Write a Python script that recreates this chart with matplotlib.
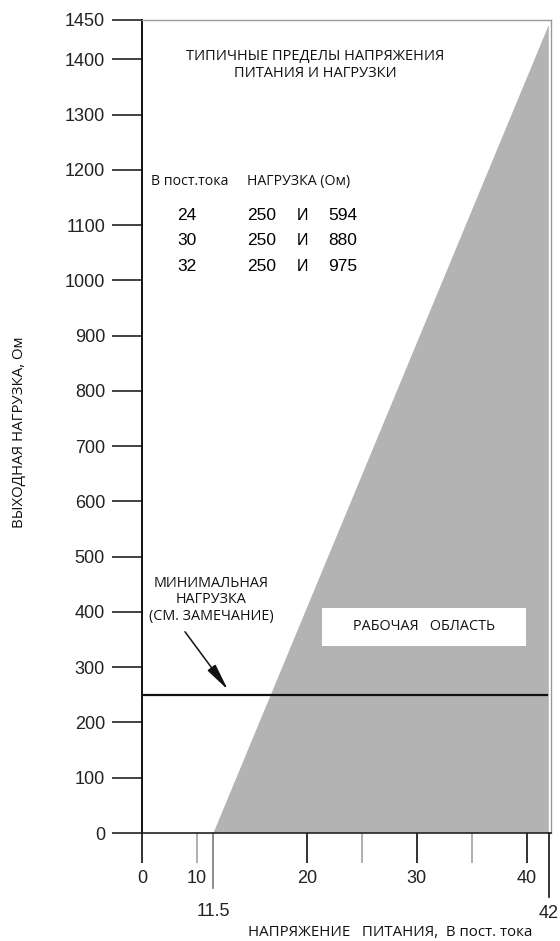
import matplotlib.pyplot as plt
from matplotlib.patches import Polygon, Rectangle

# данные
y_ticks = [0, 100, 200, 300, 400, 500, 600, 700, 800, 900, 1000, 1100, 1200, 1300, 1400]
x_major = [20, 30, 40]
x_minor = [10, 25, 35]
v_min = 11.5
v_max = 42
r_min = 250
# рабочая область (граница идёт примерно от 11.5 В до верхнего угла при 42 В)
area_v = [11.5, 42, 42]
area_r = [0, 1462, 0]
table_v = [24, 30, 32]
table_lo = [250, 250, 250]
table_hi = [594, 880, 975]

num_font = 'Liberation Sans'
txt_font = 'Open Sans'

fig = plt.figure(figsize=(5.6, 9.41), dpi=100)
W, H = 560, 941
ax = fig.add_axes([142 / W, 1 - 833 / H, (551 - 142) / W, (833 - 20) / H])
ax.set_xlim(5, 42.2)
ax.set_ylim(0, 1471)

# серая область
ax.add_patch(Polygon(list(zip(area_v, area_r)), closed=True, facecolor='#b3b3b3', edgecolor='none', zorder=1))
ax.plot([5, 41.8], [r_min, r_min], color='#111111', lw=1.6, zorder=3)

# оси
for s in ['top', 'right']:
    ax.spines[s].set_color('#999999')
    ax.spines[s].set_linewidth(1.0)
ax.spines['left'].set_color('#111111')
ax.spines['left'].set_linewidth(1.4)
ax.spines['bottom'].set_color('#222222')
ax.spines['bottom'].set_linewidth(1.2)

ax.set_yticks(y_ticks + [1471], [str(v) for v in y_ticks] + ['1450'])
ax.tick_params(axis='y', direction='out', length=21.6, width=1.3, color='#333333', pad=5,
               labelsize=13)
ax.set_xticks([5] + x_major, ['0'] + [str(v) for v in x_major])
ax.set_xticks(x_minor, ['10', '', ''], minor=True)
ax.tick_params(axis='x', which='major', direction='out', length=21.6, width=1.3,
               color='#222222', pad=5, labelsize=13)
ax.tick_params(axis='x', which='minor', direction='out', length=21.6, width=1.1,
               color='#999999', pad=5, labelsize=13)
for lab in ax.get_xticklabels(which='both') + ax.get_yticklabels():
    lab.set_family(num_font)
    lab.set_color('#222222')

# длинные засечки 11.5 и 42
trans = ax.get_xaxis_transform()
ax_h = 833 - 20
for v, ln, off, col in [(v_min, 55, 78, '#777777'), (v_max, 64, 80, '#111111')]:
    ax.plot([v, v], [0, -ln / ax_h], transform=trans, color=col, lw=1.2, clip_on=False)
    ax.text(v, -off / ax_h, f'{v:g}', transform=trans, ha='center', va='center',
            fontsize=13, family=num_font, color='#222222')


def dx(px):
    return 5 + (px - 142) / 11.0


def dy(py):
    return (832 - py) / 0.552


# заголовок
ax.text(dx(315), dy(65), 'ТИПИЧНЫЕ ПРЕДЕЛЫ НАПРЯЖЕНИЯ\nПИТАНИЯ И НАГРУЗКИ', ha='center', va='center',
        fontsize=10.5, family=txt_font, linespacing=1.25, color='#111111')

# таблица
ax.text(dx(151), dy(181), 'В пост.тока', ha='left', va='center', fontsize=10.2, family=txt_font,
        color='#111111')
ax.text(dx(247), dy(181), 'НАГРУЗКА (Ом)', ha='left', va='center', fontsize=10.2, family=txt_font,
        color='#111111')
for i, (v, lo, hi) in enumerate(zip(table_v, table_lo, table_hi)):
    yy = dy(215 + 25.5 * i)
    ax.text(dx(187), yy, str(v), ha='center', va='center', fontsize=12.5, family=num_font)
    ax.text(dx(262), yy, str(lo), ha='center', va='center', fontsize=12.5, family=num_font)
    ax.text(dx(303), yy, 'И', ha='center', va='center', fontsize=11.5, family=num_font)
    ax.text(dx(343), yy, str(hi), ha='center', va='center', fontsize=12.5, family=num_font)

# минимальная нагрузка
ax.text(dx(211), dy(599), 'МИНИМАЛЬНАЯ\nНАГРУЗКА\n(СМ. ЗАМЕЧАНИЕ)', ha='center', va='center',
        fontsize=10.4, family=txt_font, linespacing=1.15, color='#111111')
ax.annotate('', xy=(dx(228), dy(689)), xytext=(dx(185), dy(631)),
            arrowprops=dict(arrowstyle='-|>,head_length=1.1,head_width=0.2', color='#111111',
                            lw=1.1, shrinkA=0, shrinkB=0, mutation_scale=15))

# рабочая область
ax.add_patch(Rectangle((dx(322), dy(645)), dx(526) - dx(322), dy(607) - dy(645),
                       facecolor='white', edgecolor='none', zorder=2))
ax.text(dx(424), dy(626), 'РАБОЧАЯ   ОБЛАСТЬ', ha='center', va='center', fontsize=10.4,
        family=txt_font, color='#111111', zorder=4)

# подписи осей
fig.text(20 / W, 1 - 432 / H, 'ВЫХОДНАЯ НАГРУЗКА, Ом', rotation=90, ha='center', va='center',
         fontsize=10.8, family=txt_font, color='#111111')
fig.text(390 / W, 1 - 932 / H, 'НАПРЯЖЕНИЕ   ПИТАНИЯ,  В пост. тока', ha='center', va='center',
         fontsize=10.8, family=txt_font, color='#111111')

fig.savefig('out.png', dpi=100)
